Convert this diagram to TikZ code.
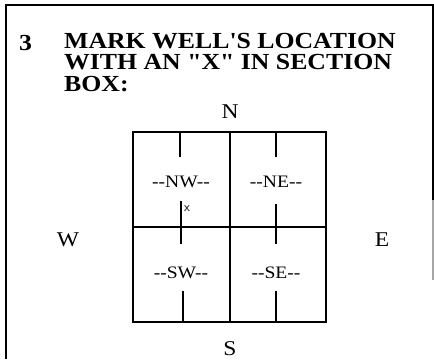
\documentclass[tikz,border=0pt]{standalone}
\usepackage{fontspec}
\setmainfont{Liberation Serif}[Ligatures=TeXOff, FakeStretch=1.12]
\usepackage{tikz}
\usetikzlibrary{positioning}

\begin{document}
\begin{tikzpicture}[
  x=1pt, y=-1pt,
  marco/.style={line width=1.6pt},
  linea/.style={line width=1.8pt},
  titulo/.style={font=\bfseries\fontsize{23}{21.5}\selectfont, inner sep=0pt, align=left},
  punto/.style={font=\fontsize{21}{21}\selectfont, inner sep=0pt},
  seccion/.style={font=\fontsize{17.5}{17.5}\selectfont, inner sep=0pt}
]
  \useasboundingbox (0,0) rectangle (434,359);
  % marco del formulario
  \draw[marco] (6,359) -- (6,5) -- (433,5) -- (433,200);
  \draw[marco, gray!70] (433,200) -- (433,280);
  % titulo
  \node[titulo, anchor=base west] (num) at (19,50) {3};
  \node[titulo, anchor=north west] (tit) at (64,33)
    {MARK WELL'S LOCATION\\WITH AN "X" IN SECTION\\BOX:};
  % caja de secciones
  \coordinate (nw) at (133,132);
  \coordinate (se) at (326,322);
  \coordinate (c) at (230,227);
  \draw[linea] (nw) rectangle (se);
  \draw[linea] (c |- nw) -- (c |- se);
  \draw[linea] (nw |- c) -- (se |- c);
  % marcas
  \draw[linea] (180,132) -- (180,157);
  \draw[linea] (276,132) -- (276,157);
  \draw[linea] (181,201) -- (181,244);
  \draw[linea] (276,204) -- (276,244);
  \draw[linea] (183,291) -- (183,322);
  \draw[linea] (276,291) -- (276,322);
  % secciones
  \node[seccion] (snw) at (181,182) {--NW--};
  \node[seccion] (sne) at (276,182) {--NE--};
  \node[seccion] (ssw) at (181,273) {--SW--};
  \node[seccion] (sse) at (276,273) {--SE--};
  \node[font=\sffamily\fontsize{13}{13}\selectfont, inner sep=0pt] (x) at (187,209) {x};
  % puntos cardinales
  \node[punto] (n) at (230,112) {N};
  \node[punto] (s) at (230,349) {S};
  \node[punto] (w) at (68,240) {W};
  \node[punto] (e) at (382,240) {E};
\end{tikzpicture}
\end{document}
